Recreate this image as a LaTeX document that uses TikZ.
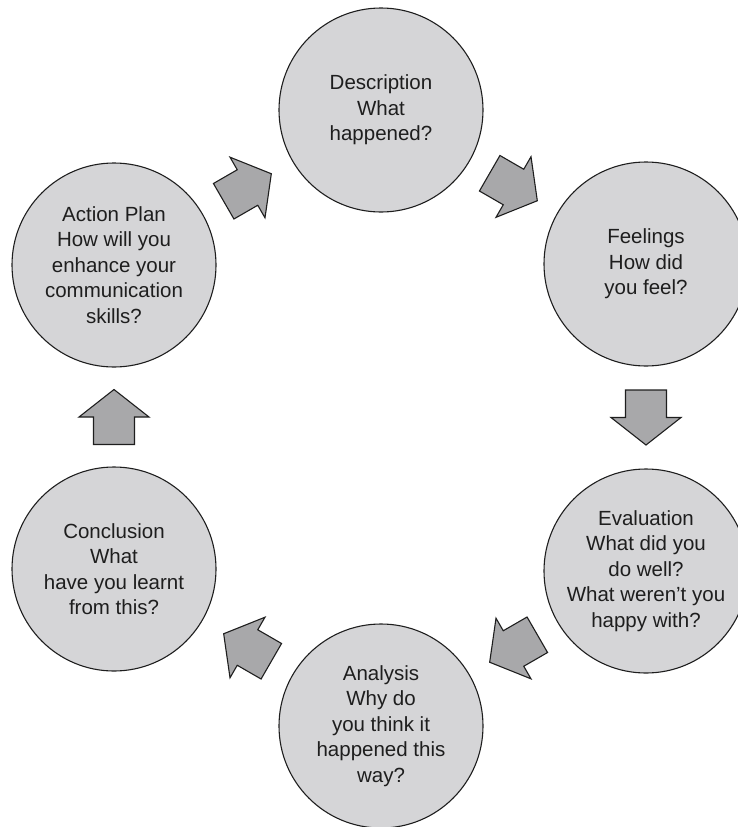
\documentclass[tikz,border=0pt]{standalone}
\usepackage{fontspec}
\setmainfont{Liberation Sans}
\usetikzlibrary{calc}
\definecolor{circfill}{RGB}{213,213,215}
\definecolor{arrfill}{RGB}{168,168,170}
\definecolor{inkc}{RGB}{30,30,30}
\begin{document}
\begin{tikzpicture}[x=1pt,y=-1pt,
  stage/.style={circle,draw=inkc,line width=1.1pt,fill=circfill,minimum size=204pt,inner sep=0pt,
    align=center,text=inkc,font=\fontsize{20.5}{25.5}\selectfont},
  blockarr/.style={draw=inkc,line width=1.1pt,fill=arrfill,line join=miter}]
\useasboundingbox (0,0) rectangle (738,827);
\clip (0,0) rectangle (738,827);
\node[stage] (desc) at (381,110) {Description\\What\\happened?};
\node[stage] (feel) at (646,264) {Feelings\\How did\\you feel?};
\node[stage] (eval) at (646,571) {Evaluation\\What did you\\do well?\\What weren’t you\\happy with?};
\node[stage] (anal) at (381,726) {Analysis\\Why do\\you think it\\happened this\\way?};
\node[stage] (concl) at (114,569) {Conclusion\\What\\have you learnt\\from this?};
\node[stage] (act) at (114,265) {Action Plan\\How will you\\enhance your\\communication\\skills?};
\def\blockarrow#1#2#3{%
  \draw[blockarr,shift={($(#1)!0.5!(#2)$)},rotate=#3]
    (-27.5,-20.5) -- (0,-20.5) -- (0,-35) -- (27.5,0) -- (0,35) -- (0,20.5) -- (-27.5,20.5) -- cycle;}
\blockarrow{act}{desc}{30}
\blockarrow{desc}{feel}{-30}
\blockarrow{feel}{eval}{-90}
\blockarrow{eval}{anal}{210}
\blockarrow{anal}{concl}{150}
\blockarrow{concl}{act}{90}
\end{tikzpicture}
\end{document}
